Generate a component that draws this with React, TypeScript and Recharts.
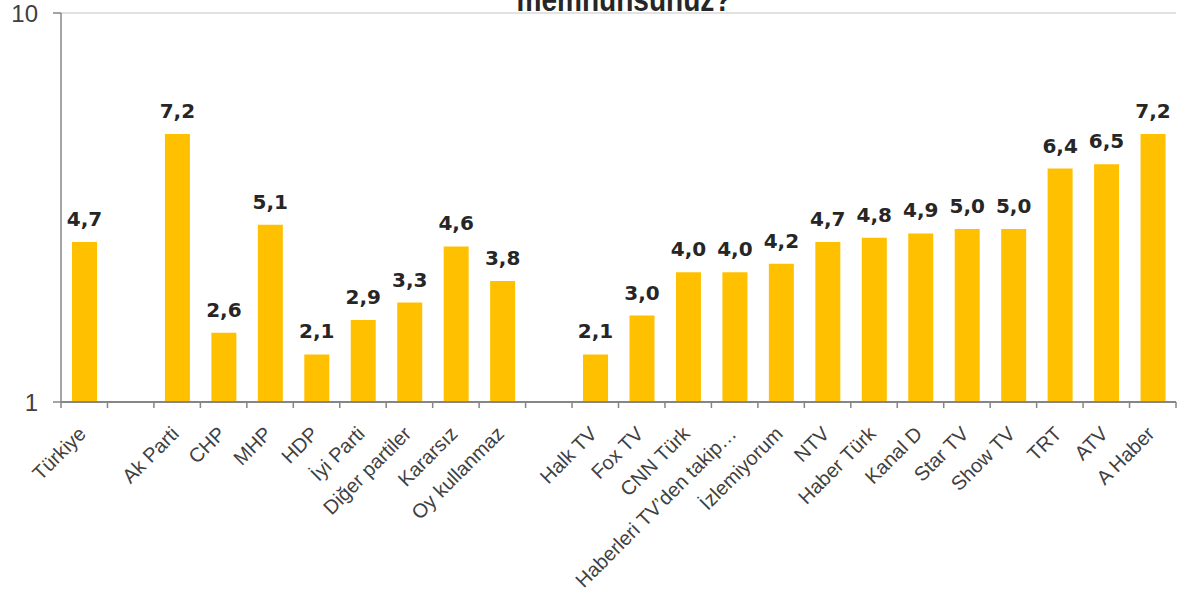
import React from "react";
import { BarChart, Bar, XAxis, YAxis, CartesianGrid, LabelList } from "recharts";

const categories: string[] = [
  "Türkiye", "", "Ak Parti", "CHP", "MHP", "HDP", "İyi Parti", "Diğer partiler", "Kararsız", "Oy kullanmaz", "",
  "Halk TV", "Fox TV", "CNN Türk", "Haberleri TV’den takip…", "İzlemiyorum", "NTV", "Haber Türk", "Kanal D",
  "Star TV", "Show TV", "TRT", "ATV", "A Haber",
];
const values: (number | null)[] = [
  4.7, null, 7.2, 2.6, 5.1, 2.1, 2.9, 3.3, 4.6, 3.8, null,
  2.1, 3.0, 4.0, 4.0, 4.2, 4.7, 4.8, 4.9,
  5.0, 5.0, 6.4, 6.5, 7.2,
];
const yTicks = [1, 10];
const titleText = "memnunsunuz?";

const data = categories.map((name, i) => ({ name, value: values[i] }));

const W = 1177;
const H = 594;
const MARGIN = { top: 13, right: 1, left: 0, bottom: 0 };
const Y_W = 61;
const X_H = 192;
const SLOT = (W - MARGIN.left - MARGIN.right - Y_W) / categories.length;
const AXIS = "#868686";
const BAR = "#FFC000";

const XTick = (props: any) => {
  const { x, y, payload, index } = props;
  const half = SLOT / 2;
  const ax = x + 3;
  const ay = y + 33;
  return (
    <g>
      <line x1={x - half} x2={x - half} y1={y} y2={y + 6} stroke={AXIS} strokeWidth={1.5} />
      {index === categories.length - 1 && (
        <line x1={x + half} x2={x + half} y1={y} y2={y + 6} stroke={AXIS} strokeWidth={1.5} />
      )}
      {payload.value ? (
        <text
          x={ax}
          y={ay}
          textAnchor="end"
          transform={`rotate(-45 ${ax} ${ay})`}
          fontFamily="'Liberation Sans', Arial, sans-serif"
          fontSize={20}
          fill="#404040"
        >
          {payload.value}
        </text>
      ) : null}
    </g>
  );
};

const ValueLabel = (props: any) => {
  const { x, y, width, value } = props;
  if (value === null || value === undefined) return null;
  return (
    <text
      x={x + width / 2}
      y={y - 16}
      textAnchor="middle"
      fontFamily="'DejaVu Sans', sans-serif"
      fontWeight="bold"
      fontSize={20}
      fill="#262626"
    >
      {Number(value).toFixed(1).replace(".", ",")}
    </text>
  );
};

export default function App() {
  return (
    <div style={{ position: "absolute", left: 0, top: 0, width: W, height: H, background: "#fff" }}>
      <BarChart width={W} height={H} data={data} margin={MARGIN}>
        <CartesianGrid vertical={false} stroke="#d9d9d9" strokeWidth={1.5} />
        <XAxis
          dataKey="name"
          height={X_H}
          interval={0}
          tickSize={0}
          tickMargin={0}
          tickLine={false}
          axisLine={{ stroke: AXIS, strokeWidth: 2 }}
          tick={<XTick />}
        />
        <YAxis
          type="number"
          domain={[1, 10]}
          ticks={yTicks}
          interval={0}
          width={Y_W}
          tickSize={8}
          tickMargin={15}
          axisLine={{ stroke: AXIS, strokeWidth: 1.5 }}
          tickLine={{ stroke: AXIS, strokeWidth: 1.5 }}
          tick={{ fill: "#404040", fontSize: 24, fontFamily: "'Liberation Sans', Arial, sans-serif" }}
        />
        <Bar dataKey="value" fill={BAR} barSize={25} isAnimationActive={false}>
          <LabelList dataKey="value" content={<ValueLabel />} />
        </Bar>
      </BarChart>
      <svg
        width={W}
        height={40}
        style={{ position: "absolute", left: 0, top: 0, pointerEvents: "none" }}
      >
        <text
          x={624}
          y={11}
          textAnchor="middle"
          fontFamily="'Liberation Sans Narrow', 'Liberation Sans', Arial, sans-serif"
          fontWeight="bold"
          fontSize={34}
          fill="#262626"
          textLength={215}
          lengthAdjust="spacingAndGlyphs"
        >
          {titleText}
        </text>
      </svg>
    </div>
  );
}
